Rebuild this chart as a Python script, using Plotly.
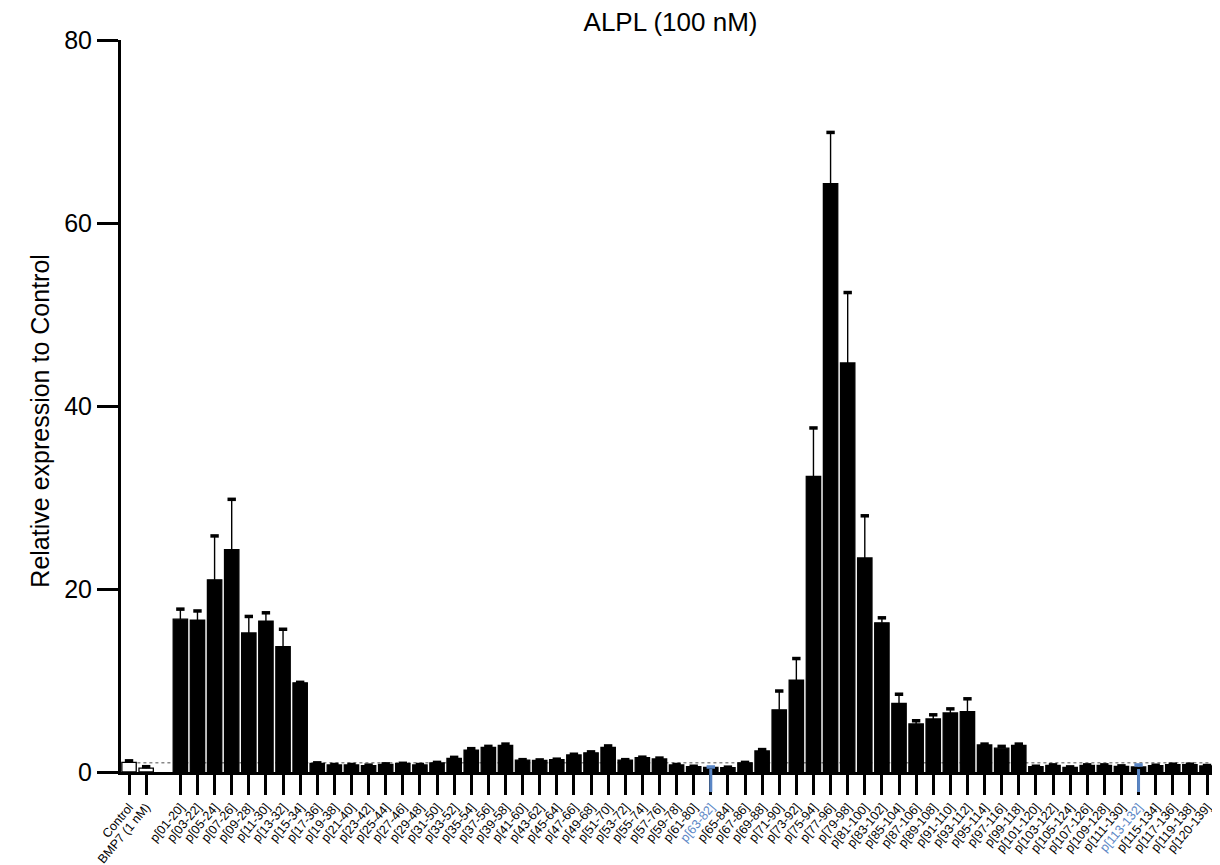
import plotly.graph_objects as go

# ---------------- data ----------------
control_labels = ["Control", "BMP7 (1 nM)"]
control_values = [1.05, 0.42]
control_errors = [0.17, 0.16]

peptide_labels = (
    [f"p[{s:02d}-{s + 19}]" for s in range(1, 62, 2)]
    + [f"p[{s}-{s + 19}]" for s in range(63, 120, 2)]
    + ["p[120-139]"]
)
peptide_values = [
    16.7, 16.6, 21.0, 24.3, 15.2, 16.5, 13.7, 9.75, 0.95, 0.77,
    0.77, 0.70, 0.84, 0.90, 0.77, 1.00, 1.50, 2.40, 2.70, 2.90,
    1.30, 1.27, 1.35, 1.86, 2.10, 2.70, 1.30, 1.57, 1.42, 0.77,
    0.58, 0.50, 0.48, 1.00, 2.30, 6.80, 10.05, 32.3, 64.3, 44.7,
    23.4, 16.3, 7.50, 5.25, 5.80, 6.45, 6.60, 2.95, 2.60, 2.90,
    0.58, 0.73, 0.51, 0.73, 0.73, 0.62, 0.55, 0.69, 0.80, 0.80,
    0.66,
]
peptide_errors = [
    1.1, 1.0, 4.8, 5.5, 1.8, 0.9, 1.9, 0.05, 0.05, 0.05,
    0.05, 0.05, 0.05, 0.05, 0.05, 0.05, 0.10, 0.15, 0.10, 0.15,
    0.05, 0.05, 0.05, 0.08, 0.10, 0.15, 0.05, 0.05, 0.10, 0.05,
    0.05, 0.05, 0.05, 0.05, 0.15, 2.05, 2.35, 5.3, 5.6, 7.7,
    4.6, 0.55, 1.0, 0.35, 0.45, 0.45, 1.4, 0.10, 0.20, 0.15,
    0.05, 0.05, 0.05, 0.05, 0.05, 0.05, 0.22, 0.05, 0.05, 0.05,
    0.05,
]
highlighted = ["p[63-82]", "p[113-132]"]
reference_level = 1.0
y_ticks = [0, 20, 40, 60, 80]

# ---------------- styling ----------------
BLUE = "#5a86c5"
FONT = "Liberation Sans, Arial, sans-serif"
# the page body adds an 8px offset, so the figure is 8px smaller to fit the window
W, H = 1212, 857
ML, MR, MT, MB = 113, 0, 32, 93
plot_w = W - ML - MR
plot_h = H - MT - MB

labels = control_labels + peptide_labels
values = control_values + peptide_values
errors = control_errors + peptide_errors
# positions: controls, one empty slot, then peptides
positions = list(range(len(control_labels))) + [
    len(control_labels) + 1 + k for k in range(len(peptide_labels))
]
fill = ["white"] * len(control_labels) + ["black"] * len(peptide_labels)
is_hl = [lab in highlighted for lab in labels]
cap_colors = [BLUE if h else "black" for h in is_hl]
ticktext = [
    f'<span style="color:{BLUE}">{lab}</span>' if h else lab
    for lab, h in zip(labels, is_hl)
]

fig = go.Figure()
fig.add_trace(go.Bar(
    x=positions, y=values, width=0.84,
    marker=dict(color=fill, line=dict(color="black", width=1.3)),
    error_y=dict(type="data", symmetric=False, array=errors,
                 arrayminus=[0] * len(errors), color="black",
                 thickness=1.4, width=0),
    showlegend=False, hoverinfo="x+y",
))
# highlighted error bars in blue
hx = [p for p, h in zip(positions, is_hl) if h]
hy = [v for v, h in zip(values, is_hl) if h]
he = [e for e, h in zip(errors, is_hl) if h]
fig.add_trace(go.Scatter(
    x=hx, y=hy, mode="markers", marker=dict(size=1, color="rgba(0,0,0,0)"),
    error_y=dict(type="data", symmetric=False, array=he,
                 arrayminus=[0] * len(he), color=BLUE, thickness=2, width=0),
    showlegend=False, hoverinfo="skip", cliponaxis=False,
))
# error-bar caps
fig.add_trace(go.Scatter(
    x=positions, y=[v + e for v, e in zip(values, errors)], mode="markers",
    marker=dict(symbol="line-ew", size=6, line=dict(width=3.5, color=cap_colors)),
    showlegend=False, hoverinfo="skip", cliponaxis=False,
))

# dotted reference line
fig.add_shape(type="line", xref="paper", yref="y", x0=0.004, x1=0.99,
              y0=reference_level, y1=reference_level,
              line=dict(color="#888888", width=1.5, dash="dot"), layer="below")

# blue tick marks for highlighted peptides
for p, h in zip(positions, is_hl):
    if h:
        fig.add_shape(type="line", xref="x", yref="paper", x0=p, x1=p,
                      y0=0.004, y1=-20 / plot_h,
                      line=dict(color=BLUE, width=3))

fig.update_layout(
    width=W, height=H,
    margin=dict(l=ML, r=MR, t=MT, b=MB),
    paper_bgcolor="white", plot_bgcolor="white",
    font=dict(family=FONT, color="black"),
    title=dict(text="ALPL (100 nM)", x=0.5, xref="paper",
               y=1 - 14 / H, yref="container", xanchor="center",
               yanchor="middle", font=dict(size=26, family=FONT)),
    xaxis=dict(
        range=[-0.47, positions[-1] + 0.76],
        tickmode="array", tickvals=positions, ticktext=ticktext,
        tickangle=-50, tickfont=dict(size=12.5, family=FONT),
        showline=True, linecolor="black", linewidth=3,
        ticks="outside", ticklen=20, tickwidth=3, tickcolor="black",
        showgrid=False, zeroline=False, automargin=False,
    ),
    yaxis=dict(
        range=[0, 80], tickmode="array", tickvals=y_ticks,
        tickfont=dict(size=25, family=FONT),
        showline=True, linecolor="black", linewidth=3,
        ticks="outside", ticklen=21, tickwidth=3, tickcolor="black",
        showgrid=False, zeroline=False, automargin=False,
    ),
    annotations=[dict(
        text="Relative expression to Control", textangle=-90,
        xref="paper", yref="paper", x=(32 - ML) / plot_w, y=0.48,
        xanchor="center", yanchor="middle", showarrow=False,
        font=dict(size=25, family=FONT),
    )],
)

fig.write_html("out.html")
